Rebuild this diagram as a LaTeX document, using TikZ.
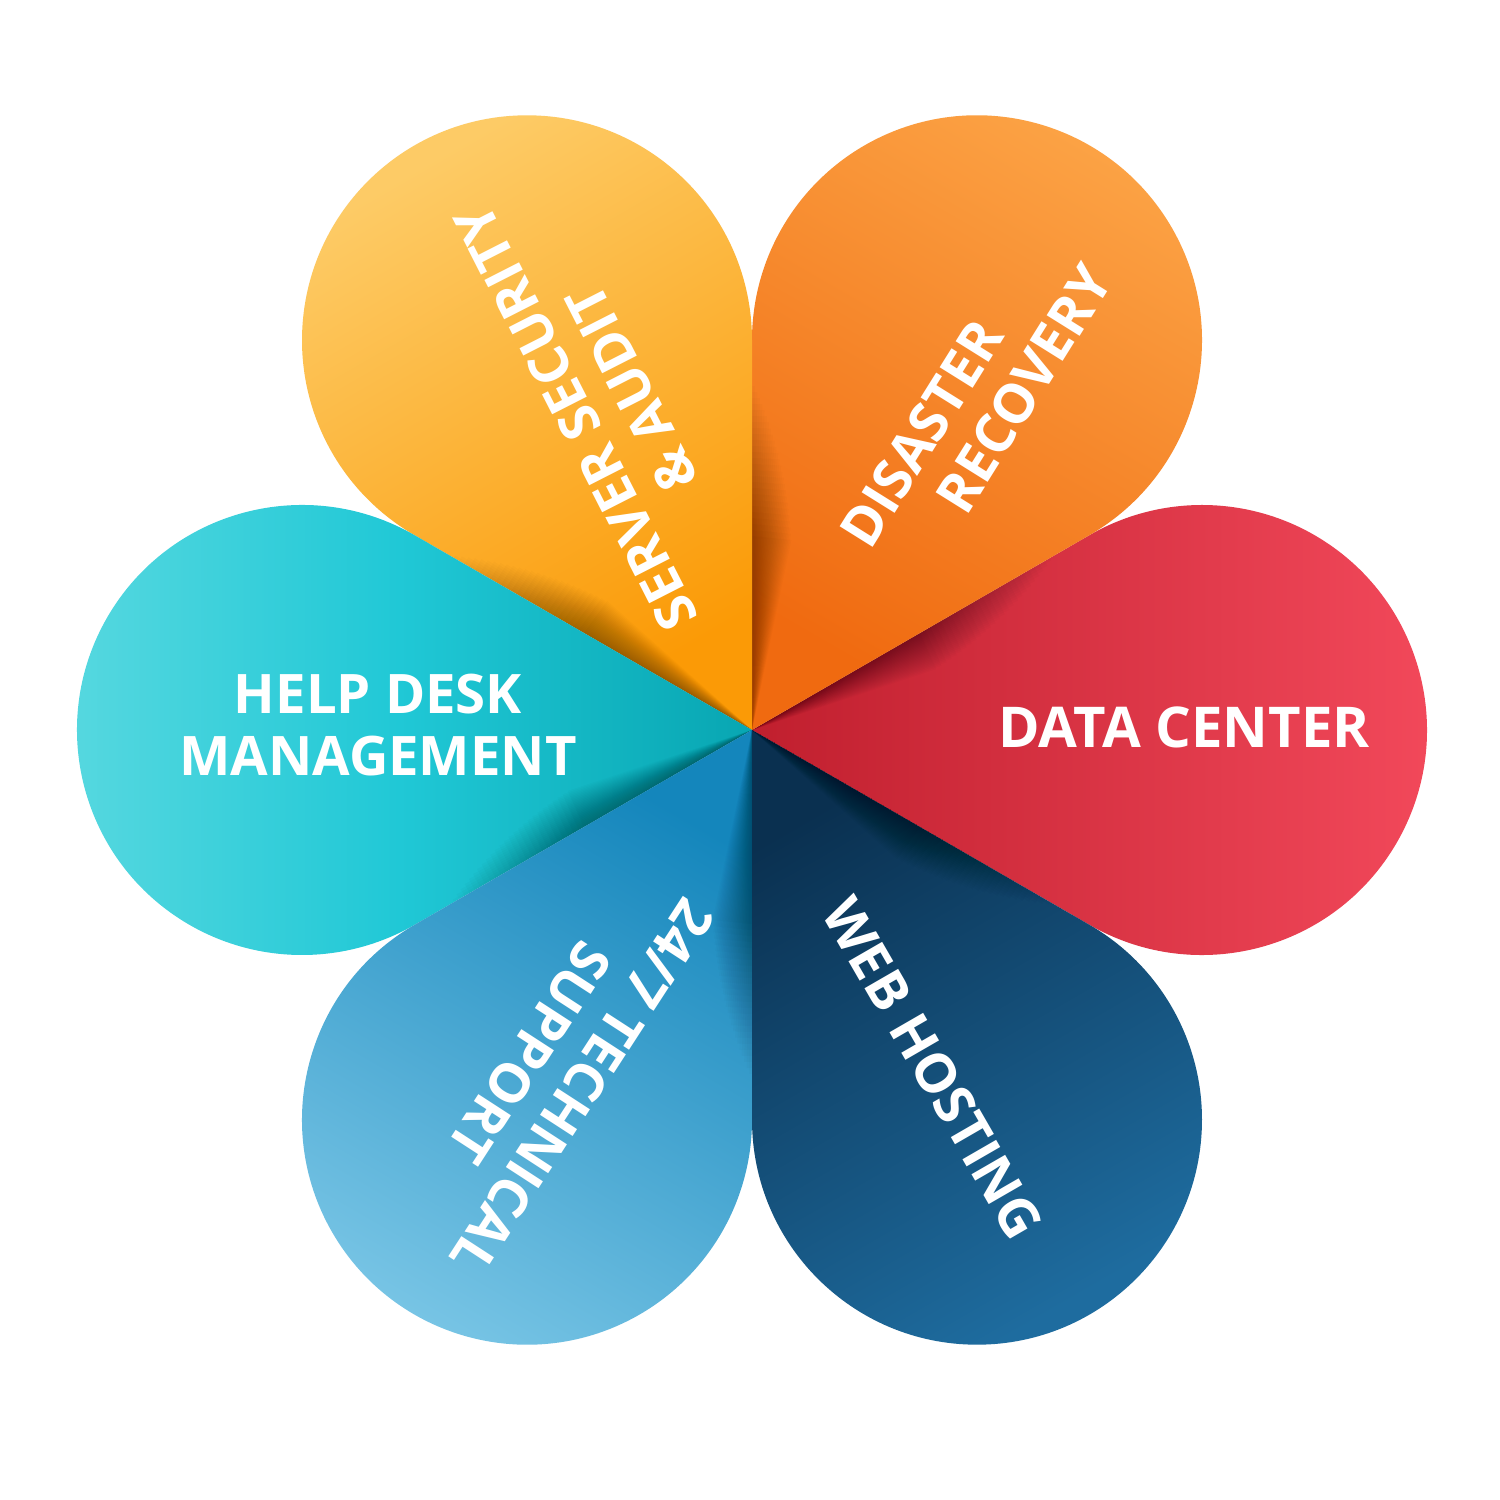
\documentclass[tikz,border=0pt]{standalone}
\usepackage{fontspec}
\setmainfont{Open Sans}
\usepackage{tikz}
\usetikzlibrary{calc}
\definecolor{dcIn}{HTML}{C01F2E}\definecolor{dcOut}{HTML}{F44A5C}
\definecolor{drIn}{HTML}{F06A10}\definecolor{drOut}{HTML}{FCA446}
\definecolor{ssIn}{HTML}{FB9A06}\definecolor{ssOut}{HTML}{FDCB66}
\definecolor{hdIn}{HTML}{08A6B2}\definecolor{hdOut}{HTML}{5AD9E0}
\definecolor{tsIn}{HTML}{1486BC}\definecolor{tsOut}{HTML}{7AC6E6}
\definecolor{whIn}{HTML}{0A3050}\definecolor{whOut}{HTML}{1E6C9F}
\definecolor{hdMid}{HTML}{20C8D6}
\tikzset{
  petal label/.style={text=white, font=\fontsize{15.5}{17.8}\selectfont\bfseries, align=center, inner sep=0pt},
  fold shadow/.style={fill=black, opacity=0.016}
}
\begin{document}
\begin{tikzpicture}
  \fill[white] (0,0) rectangle (15,15);
  \useasboundingbox (0,0) rectangle (15,15);
  \coordinate (O) at (7.52,7.70);
  % petals
  \foreach \ang/\cin/\cmid/\cout in {0/dcIn/{dcIn!50!dcOut}/dcOut, 60/drIn/{drIn!50!drOut}/drOut, 120/ssIn/{ssIn!50!ssOut}/ssOut, 180/hdIn/hdMid/hdOut, 240/tsIn/{tsIn!50!tsOut}/tsOut, 300/whIn/{whIn!50!whOut}/whOut}{
    \shade[top color=\cout, bottom color=\cin, middle color=\cmid, shading angle=\ang-90]
      (O) -- ++(\ang-30:3.897) arc[start angle=\ang-120, end angle=\ang+120, radius=2.25] -- cycle;
    % shadow of the neighbour petal
    \foreach \i in {1,...,26}{
      \pgfmathsetmacro{\len}{3.5-0.06*\i}
      \pgfmathsetmacro{\wid}{0.45*\i}
      \fill[fold shadow] (O) -- ([shift={(\ang+30:\len)}]O) -- ([shift={(\ang+30-\wid:\len)}]O) -- cycle;
    }
  }
  % labels
  \node[petal label, font=\fontsize{16}{18}\selectfont\bfseries] (dc) at (11.84,7.73) {DATA CENTER};
  \node[petal label, rotate=58, align=left] (dr) at (9.76,10.94) {DISASTER\\\hspace*{0.8cm}RECOVERY};
  \node[petal label, rotate=117] (ss) at (6.04,10.97) {SERVER SECURITY\\\& AUDIT};
  \node[petal label] (hd) at (3.78,7.75) {HELP DESK\\MANAGEMENT};
  \node[petal label, rotate=-123] (ts) at (5.56,4.30) {24/7 TECHNICAL\\SUPPORT};
  \node[petal label, rotate=-60] (wh) at (9.33,4.32) {WEB HOSTING};
\end{tikzpicture}
\end{document}
